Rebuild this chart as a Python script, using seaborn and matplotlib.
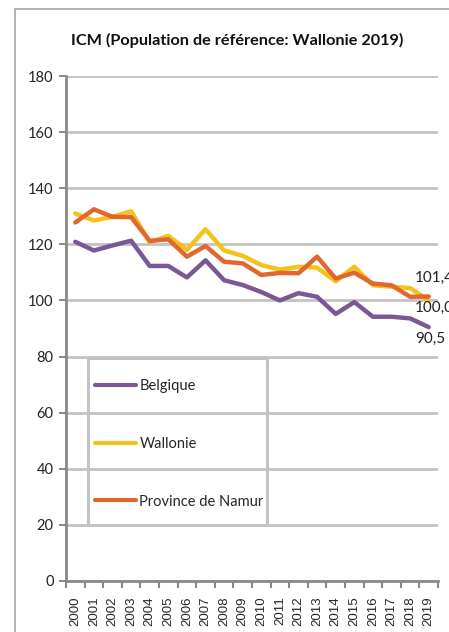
import numpy as np
import pandas as pd
import matplotlib
matplotlib.use("Agg")
import matplotlib.pyplot as plt
import seaborn as sns
from matplotlib.patches import Rectangle
from matplotlib.lines import Line2D

# ---- data ----
years = list(range(2000, 2020))
belgique = [120.9, 117.8, 119.6, 121.3, 112.3, 112.3, 108.2, 114.3, 107.2, 105.5,
            103.0, 100.0, 102.6, 101.3, 95.2, 99.4, 94.2, 94.2, 93.6, 90.5]
wallonie = [131.0, 128.5, 129.8, 131.8, 120.8, 123.0, 118.0, 125.4, 117.8, 115.9,
            112.6, 111.0, 112.0, 111.7, 106.8, 112.0, 105.4, 104.9, 104.4, 100.0]
namur = [127.8, 132.5, 129.8, 129.7, 121.2, 121.8, 115.6, 119.4, 113.8, 113.2,
         109.1, 109.8, 109.7, 115.6, 107.8, 109.9, 106.0, 105.4, 101.3, 101.4]
series_names = ["Belgique", "Wallonie", "Province de Namur"]
colors = ["#7a5893", "#f4c21c", "#e2672e"]
title = "ICM (Population de référence: Wallonie 2019)"
yticks = list(range(0, 181, 20))

df = pd.DataFrame({
    "Année": years * 3,
    "ICM": belgique + wallonie + namur,
    "Série": [s for s in series_names for _ in years],
})

sns.set_theme(style="white")
plt.rcParams["font.family"] = ["Lato", "DejaVu Sans"]

W, H = 449, 632
fig = plt.figure(figsize=(W / 100, H / 100), dpi=100)
ax = fig.add_axes([66 / W, 1 - 581 / H, (438 - 66) / W, (581 - 76) / H])

sns.lineplot(data=df, x="Année", y="ICM", hue="Série", hue_order=series_names,
             palette=colors, linewidth=3.2, ax=ax, legend=False, sort=False)

ax.set_ylim(0, 180)
ax.set_yticks(yticks)
ax.set_xlim(years[0] - 0.5, years[-1] + 0.5)
ax.set_xticks(years)
ax.set_xticklabels([str(y) for y in years], rotation=90,
                   fontfamily="Liberation Sans", fontsize=9.5)
ax.set_xticks(np.arange(years[0] - 0.5, years[-1] + 1, 1), minor=True)
ax.set_xlabel("")
ax.set_ylabel("")
ax.tick_params(axis="both", which="both", bottom=True, left=True)
ax.tick_params(axis="x", which="major", length=0, pad=11)
ax.tick_params(axis="x", which="minor", length=5, width=1.5, color="#8a8a8a", direction="out")
ax.tick_params(axis="y", length=5, width=1.5, color="#8a8a8a", pad=4,
               labelsize=10.5, labelcolor="#222222")
ax.grid(axis="y", color="#c3c3c3", lw=2)
ax.grid(axis="x", visible=False)
for s in ["top", "right"]:
    ax.spines[s].set_visible(False)
for s in ["left", "bottom"]:
    ax.spines[s].set_color("#8a8a8a")
    ax.spines[s].set_linewidth(2)

# data labels for last values
last = {"Belgique": belgique[-1], "Wallonie": wallonie[-1], "Province de Namur": namur[-1]}
offsets = {"Province de Namur": (-14, 18.5), "Wallonie": (-14, -7.6), "Belgique": (-13, -12)}
for name, v in last.items():
    ax.annotate(f"{v:.1f}".replace(".", ","), xy=(years[-1], v),
                xytext=offsets[name], textcoords="offset pixels",
                ha="left", va="center", fontsize=11, color="#222222",
                annotation_clip=False)

# legend
handles = [Line2D([0], [0], color=c, lw=3) for c in colors]
ax.legend(handles, series_names, loc="upper left",
          bbox_to_anchor=(95 / W, 1 - 379 / H), bbox_transform=fig.transFigure,
          frameon=False, borderpad=0, handlelength=2.8, handletextpad=0.25,
          labelspacing=3.0, fontsize=10.5, borderaxespad=0)
fig.add_artist(Rectangle((88 / W, 1 - 525 / H), (267 - 88) / W, (525 - 358) / H,
                         transform=fig.transFigure, fill=False,
                         edgecolor="#c3c3c3", lw=2.2))

# outer chart frame
fig.add_artist(Line2D([15 / W, 15 / W], [0, 1 - 9 / H], transform=fig.transFigure,
                      color="#a6a6a6", lw=1.2))
fig.add_artist(Line2D([15 / W, 1], [1 - 9 / H, 1 - 9 / H], transform=fig.transFigure,
                      color="#a6a6a6", lw=1.2))

fig.text(237 / W, 1 - 40 / H, title, ha="center", va="center",
         fontweight="bold", fontsize=11.7, color="#111111")

fig.savefig("out.png", dpi=100)
